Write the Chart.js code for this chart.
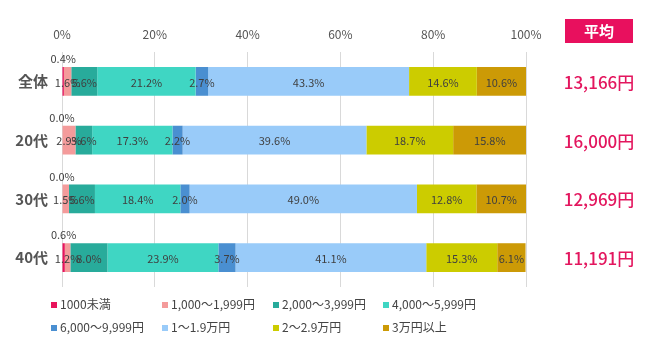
<!DOCTYPE html>
<html>
<head>
<meta charset="utf-8">
<script src="https://cdn.jsdelivr.net/npm/chart.js@4"></script>
<style>
  body { margin: 0; background: #fff; }
  #wrap { position: relative; width: 650px; height: 361px; font-family: "Noto Sans CJK JP", "Noto Sans", sans-serif; }
  #myChart { position: absolute; left: 0; top: 0; }
  .legend-item { position: absolute; font-size: 12px; color: #444; line-height: 14px; white-space: nowrap; }
  .legend-item span { display: inline-block; width: 6px; height: 6px; margin-right: 3px; vertical-align: 1px; }
</style>
</head>
<body>
<div id="wrap">
  <canvas id="myChart" width="650" height="361"></canvas>
  <div id="legend"></div>
</div>
<script>
const categories = ["全体", "20代", "30代", "40代"];
const seriesNames = ["1000未満", "1,000～1,999円", "2,000～3,999円", "4,000～5,999円",
  "6,000～9,999円", "1～1.9万円", "2～2.9万円", "3万円以上"];
const seriesColors = ["#e8145c", "#f49b9b", "#28ab9b", "#3fd6c3",
  "#4a8fd1", "#99cbf9", "#cccc00", "#cc9a06"];

// rows: 全体, 20代, 30代, 40代
const under1000 = [0.4, 0.0, 0.0, 0.6];
const yen1000 = [1.6, 2.9, 1.5, 1.2];
const yen2000 = [5.6, 3.6, 5.6, 8.0];
const yen4000 = [21.2, 17.3, 18.4, 23.9];
const yen6000 = [2.7, 2.2, 2.0, 3.7];
const man1 = [43.3, 39.6, 49.0, 41.1];
const man2 = [14.6, 18.7, 12.8, 15.3];
const man3 = [10.6, 15.8, 10.7, 6.1];
const averages = ["13,166円", "16,000円", "12,969円", "11,191円"];
const xTicks = [0, 20, 40, 60, 80, 100];

const seriesValues = [under1000, yen1000, yen2000, yen4000, yen6000, man1, man2, man3];
const fontFamily = '"Noto Sans CJK JP", "Noto Sans", sans-serif';

const datasets = seriesValues.map((vals, i) => ({
  label: seriesNames[i],
  data: vals,
  backgroundColor: seriesColors[i],
  borderWidth: 0,
  categoryPercentage: 1,
  barPercentage: 0.49,
}));

// segment labels + average column on the right
const labelPlugin = {
  id: "segLabels",
  afterDatasetsDraw(chart) {
    const ctx = chart.ctx;
    ctx.save();
    ctx.font = "11px " + fontFamily;
    ctx.fillStyle = "#3f3f3f";
    ctx.textAlign = "center";
    ctx.textBaseline = "middle";
    chart.data.datasets.forEach((ds, i) => {
      const meta = chart.getDatasetMeta(i);
      meta.data.forEach((bar, j) => {
        const v = ds.data[j];
        const cx = (bar.x + bar.base) / 2;
        if (i === 0) {
          ctx.fillText(v.toFixed(1) + "%", cx, bar.y - bar.height / 2 - 8);
        } else {
          ctx.fillText(v.toFixed(1) + "%", cx, bar.y + 1);
        }
      });
    });

    // 平均 header
    ctx.fillStyle = "#e8105e";
    ctx.fillRect(565, 19, 68, 24);
    ctx.fillStyle = "#fff";
    ctx.font = "bold 15px " + fontFamily;
    ctx.fillText("平均", 599, 31);

    const yScale = chart.scales.y;
    ctx.fillStyle = "#e3165e";
    ctx.font = "500 17px " + fontFamily;
    averages.forEach((a, j) => {
      ctx.fillText(a, 599, yScale.getPixelForValue(j) + 1);
    });
    ctx.restore();
  },
};

const ctx = document.getElementById("myChart").getContext("2d");
const myChart = new Chart(ctx, {
  type: "bar",
  data: { labels: categories, datasets: datasets },
  options: {
    indexAxis: "y",
    responsive: false,
    animation: false,
    layout: { padding: { top: 0, right: 124, bottom: 74, left: 0 } },
    scales: {
      x: {
        position: "top",
        stacked: true,
        min: 0,
        max: 100,
        afterBuildTicks: (scale) => { scale.ticks = xTicks.map((v) => ({ value: v })); },
        afterFit: (scale) => { scale.height = 52; },
        grid: { color: "#d9d9d9", drawTicks: false },
        border: { display: false },
        ticks: {
          padding: 10,
          color: "#555",
          font: { size: 12, family: fontFamily },
          callback: (v) => v + "%",
        },
      },
      y: {
        stacked: true,
        afterFit: (scale) => { scale.width = 62; },
        grid: { display: false, drawTicks: false },
        border: { display: false },
        ticks: {
          padding: 14,
          color: "#555",
          font: { size: 15, weight: "bold", family: fontFamily },
        },
      },
    },
    plugins: {
      legend: { display: false },
      tooltip: { enabled: false },
    },
  },
  plugins: [labelPlugin],
});

// legend, 2 rows x 4 columns
const legendCols = [51, 162, 273, 383];
const legendRows = [297, 320];
const legendEl = document.getElementById("legend");
seriesNames.forEach((name, i) => {
  const item = document.createElement("div");
  item.className = "legend-item";
  item.style.left = legendCols[i % 4] + "px";
  item.style.top = legendRows[Math.floor(i / 4)] + "px";
  item.innerHTML = '<span style="background:' + seriesColors[i] + '"></span>' + name;
  legendEl.appendChild(item);
});
</script>
</body>
</html>
